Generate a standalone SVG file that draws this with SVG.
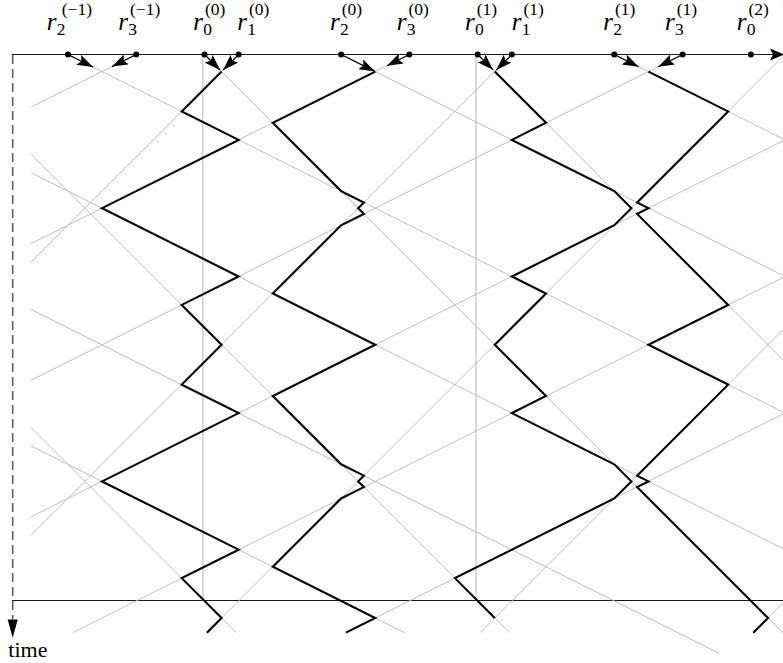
<svg xmlns="http://www.w3.org/2000/svg" width="783" height="663" viewBox="0 0 783 663">
<defs>
<style>
.ray{stroke:#bdbdbd;stroke-width:1;fill:none}
.vline{stroke:#d2d2d2;stroke-width:1.6;fill:none}
.path{stroke:#000;stroke-width:2.1;fill:none;stroke-linejoin:miter;stroke-miterlimit:10}
.axis{stroke:#1a1a1a;stroke-width:1.1;fill:none}
.arr{stroke:#000;stroke-width:1.2;fill:none;marker-end:url(#ah)}
.dot{fill:#000}
.lbl{font-family:"Liberation Serif","Times New Roman",serif;fill:#000}
.r{font-style:italic;font-size:25px}
.s{font-size:17.5px}
</style>
<marker id="ah" viewBox="0 0 16 11" refX="16" refY="5.5" markerWidth="16" markerHeight="11" markerUnits="userSpaceOnUse" orient="auto">
<path d="M0,0 L16,5.5 L0,11 L3,5.5 Z" fill="#000"/>
</marker>
</defs>
<rect width="783" height="663" fill="#fff"/>

<g id="axes">
<line class="axis" x1="12" y1="54.5" x2="775" y2="54.5"/>
<path d="M770,48.5 L784,54.5 L770,60.5 L773,54.5 Z" fill="#000"/>
<line class="axis" x1="12" y1="600.5" x2="783" y2="600.5"/>
<line x1="12.7" y1="55" x2="12.7" y2="619" stroke="#606060" stroke-width="1.6" stroke-dasharray="9,5"/>
<path d="M7.7,619.5 L17.7,619.5 L12.7,638 Z" fill="#000"/>
<text class="lbl" x="8.3" y="656.7" font-size="22">time</text>
</g>

<g id="reference-lines">
<line class="vline" x1="202.8" y1="54.5" x2="202.8" y2="600.5"/>
<line class="vline" x1="476" y1="54.5" x2="476" y2="600.5"/>
</g>

<g id="connectors">
<line class="ray" x1="31" y1="427.4" x2="236.3" y2="632.66"/>
<line class="ray" x1="31" y1="154.2" x2="509.5" y2="632.66"/>
<line class="ray" x1="204.5" y1="54.5" x2="782.7" y2="632.66"/>
<line class="ray" x1="477.7" y1="54.5" x2="802.1" y2="378.9"/>
<line class="ray" x1="238.65" y1="54.5" x2="31" y2="262.1"/>
<line class="ray" x1="511.85" y1="54.5" x2="31" y2="535.3"/>
<line class="ray" x1="785.05" y1="54.5" x2="206.9" y2="632.66"/>
<line class="ray" x1="802.1" y1="310.6" x2="480.1" y2="632.66"/>
<line class="ray" x1="802.1" y1="583.8" x2="753.3" y2="632.66"/>
<line class="ray" x1="31" y1="445.9" x2="404.6" y2="632.66"/>
<line class="ray" x1="31" y1="309.3" x2="718.8" y2="653.2"/>
<line class="ray" x1="31" y1="172.7" x2="802.1" y2="558.2"/>
<line class="ray" x1="67.9" y1="54.5" x2="802.1" y2="421.6"/>
<line class="ray" x1="341.1" y1="54.5" x2="802.1" y2="285"/>
<line class="ray" x1="614.3" y1="54.5" x2="802.1" y2="148.4"/>
<line class="ray" x1="136.2" y1="54.5" x2="31" y2="107.1"/>
<line class="ray" x1="409.4" y1="54.5" x2="31" y2="243.7"/>
<line class="ray" x1="682.6" y1="54.5" x2="31" y2="380.3"/>
<line class="ray" x1="802.1" y1="131.3" x2="31" y2="516.9"/>
<line class="ray" x1="802.1" y1="267.9" x2="72.7" y2="632.66"/>
<line class="ray" x1="802.1" y1="404.5" x2="345.9" y2="632.66"/>
</g>

<g id="trajectories">
<polyline id="path1" class="path" points="221.58,71.58 181.73,111.42 238.65,139.88 102.05,208.18 238.65,276.48 181.73,304.93 221.58,344.78 181.73,384.62 238.65,413.08 102.05,481.38 238.65,549.68 181.73,578.13 221.58,617.98 206.9,632.66"/>
<polyline id="path2" class="path" points="375.25,71.58 272.8,122.8 341.1,191.1 363.87,202.48 358.18,208.18 363.87,213.87 341.1,225.25 272.8,293.55 375.25,344.78 272.8,396 341.1,464.3 363.87,475.68 358.18,481.38 363.87,487.07 341.1,498.45 272.8,566.75 375.25,617.98 345.9,632.66"/>
<polyline id="path3" class="path" points="494.78,71.58 546,122.8 511.85,139.88 614.3,191.1 631.38,208.18 614.3,225.25 511.85,276.48 546,293.55 494.78,344.78 546,396 511.85,413.08 614.3,464.3 631.38,481.38 614.3,498.45 454.93,578.13 494.78,617.98"/>
<polyline id="path4" class="path" points="648.45,71.58 728.13,111.42 637.07,202.48 648.45,208.18 637.07,213.87 728.13,304.93 648.45,344.78 728.13,384.62 637.07,475.68 648.45,481.38 637.07,487.07 768,617.98 753.3,632.66"/>
</g>

<g id="node-r2-m1">
<line class="arr" x1="67.9" y1="54.5" x2="93" y2="67"/>
<circle class="dot" cx="67.9" cy="54.5" r="3"/>
<text class="lbl"><tspan class="r" x="46.7" y="29.5">r</tspan><tspan class="s" x="56.7" y="34.5">2</tspan><tspan class="s" x="61.7" y="15">(−1)</tspan></text>
</g>
<g id="node-r3-m1">
<line class="arr" x1="136.2" y1="54.5" x2="112" y2="66.6"/>
<circle class="dot" cx="136.2" cy="54.5" r="3"/>
<text class="lbl"><tspan class="r" x="118.3" y="29.5">r</tspan><tspan class="s" x="128.3" y="34.5">3</tspan><tspan class="s" x="130" y="15">(−1)</tspan></text>
</g>
<g id="node-r0-0">
<line class="arr" x1="204.5" y1="54.5" x2="220" y2="70"/>
<circle class="dot" cx="204.5" cy="54.5" r="3"/>
<text class="lbl"><tspan class="r" x="193.3" y="29.5">r</tspan><tspan class="s" x="203.3" y="34.5">0</tspan><tspan class="s" x="205" y="15">(0)</tspan></text>
</g>
<g id="node-r1-0">
<line class="arr" x1="238.65" y1="54.5" x2="223.2" y2="70"/>
<circle class="dot" cx="238.65" cy="54.5" r="3"/>
<text class="lbl"><tspan class="r" x="237.3" y="29.5">r</tspan><tspan class="s" x="247.3" y="34.5">1</tspan><tspan class="s" x="249" y="15">(0)</tspan></text>
</g>
<g id="node-r2-0">
<line class="arr" x1="341.1" y1="54.5" x2="375" y2="71.4"/>
<circle class="dot" cx="341.1" cy="54.5" r="3"/>
<text class="lbl"><tspan class="r" x="330" y="29.5">r</tspan><tspan class="s" x="340" y="34.5">2</tspan><tspan class="s" x="341.7" y="15">(0)</tspan></text>
</g>
<g id="node-r3-0">
<line class="arr" x1="409.4" y1="54.5" x2="387" y2="65.7"/>
<circle class="dot" cx="409.4" cy="54.5" r="3"/>
<text class="lbl"><tspan class="r" x="396.7" y="29.5">r</tspan><tspan class="s" x="406.7" y="34.5">3</tspan><tspan class="s" x="408.4" y="15">(0)</tspan></text>
</g>
<g id="node-r0-1">
<line class="arr" x1="477.7" y1="54.5" x2="493" y2="69.8"/>
<circle class="dot" cx="477.7" cy="54.5" r="3"/>
<text class="lbl"><tspan class="r" x="465" y="29.5">r</tspan><tspan class="s" x="475" y="34.5">0</tspan><tspan class="s" x="476.7" y="15">(1)</tspan></text>
</g>
<g id="node-r1-1">
<line class="arr" x1="511.85" y1="54.5" x2="496.3" y2="70"/>
<circle class="dot" cx="511.85" cy="54.5" r="3"/>
<text class="lbl"><tspan class="r" x="511.7" y="29.5">r</tspan><tspan class="s" x="521.7" y="34.5">1</tspan><tspan class="s" x="523.4" y="15">(1)</tspan></text>
</g>
<g id="node-r2-1">
<line class="arr" x1="614.3" y1="54.5" x2="638.6" y2="66.7"/>
<circle class="dot" cx="614.3" cy="54.5" r="3"/>
<text class="lbl"><tspan class="r" x="603.3" y="29.5">r</tspan><tspan class="s" x="613.3" y="34.5">2</tspan><tspan class="s" x="615" y="15">(1)</tspan></text>
</g>
<g id="node-r3-1">
<line class="arr" x1="682.6" y1="54.5" x2="658.3" y2="66.7"/>
<circle class="dot" cx="682.6" cy="54.5" r="3"/>
<text class="lbl"><tspan class="r" x="665" y="29.5">r</tspan><tspan class="s" x="675" y="34.5">3</tspan><tspan class="s" x="676.7" y="15">(1)</tspan></text>
</g>
<g id="node-r0-2">
<circle class="dot" cx="750.9" cy="54.5" r="3"/>
<text class="lbl"><tspan class="r" x="736.7" y="29.5">r</tspan><tspan class="s" x="746.7" y="34.5">0</tspan><tspan class="s" x="748.4" y="15">(2)</tspan></text>
</g>
</svg>
